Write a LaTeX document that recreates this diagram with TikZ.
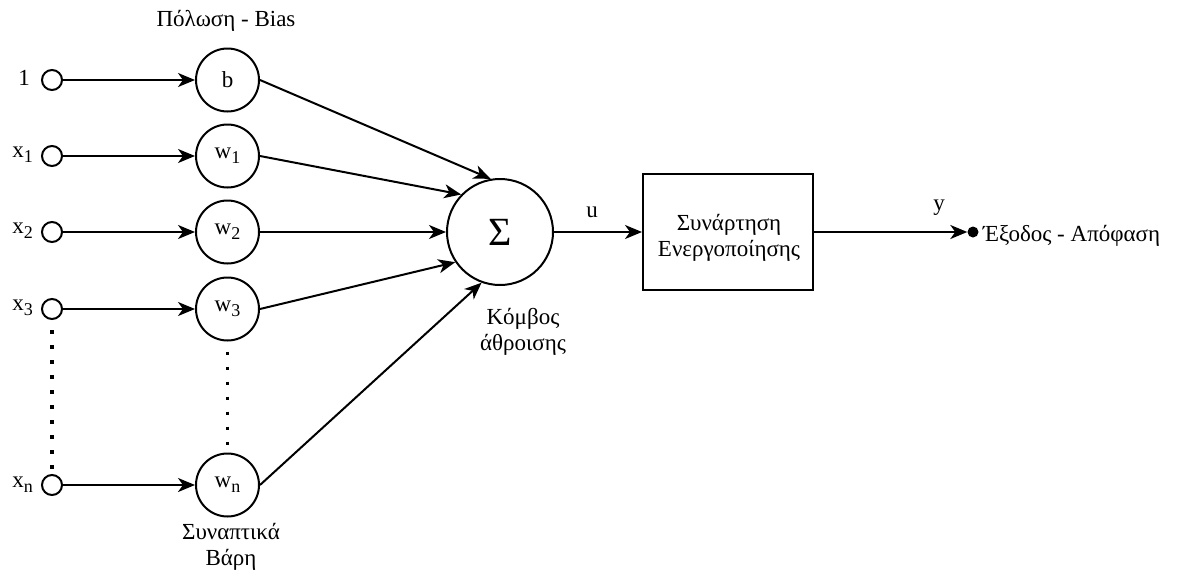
\documentclass[tikz,border=0pt]{standalone}
\usepackage{fontspec}
\setmainfont{Liberation Serif}
\usetikzlibrary{arrows.meta}
% lowered index for x_i and w_i labels
\newcommand\lowidx[1]{\raisebox{-5pt}{\fontsize{18}{18}\selectfont#1}}
\begin{document}
\begin{tikzpicture}[x=1pt,y=-1pt,
  every node/.style={font=\fontsize{23}{26}\selectfont},
  conn/.style={line width=2pt},
  arr/.style={conn,-{Stealth[length=17pt,width=14pt,inset=5pt]}},
  inport/.style={circle,draw,line width=2pt,minimum size=20pt,inner sep=0pt},
  weight/.style={circle,draw,line width=2pt,minimum size=63pt,inner sep=0pt},
  dots/.style={line width=3.8pt,dash pattern=on 3.8pt off 11.2pt},
  lbl/.style={inner sep=0pt,align=center}]
\useasboundingbox (0,0) rectangle (1178,576);

% input terminals
\node[inport] (i0) at (52,80) {};
\node[inport] (i1) at (52,156) {};
\node[inport] (i2) at (52,232) {};
\node[inport] (i3) at (52,309) {};
\node[inport] (in) at (52,485) {};
\node[lbl,anchor=east] (l0) at (30,78) {1};
\node[lbl,anchor=east] (l1) at (33,155) {x\lowidx{1}};
\node[lbl,anchor=east] (l2) at (33,231) {x\lowidx{2}};
\node[lbl,anchor=east] (l3) at (33,308) {x\lowidx{3}};
\node[lbl,anchor=east] (ln) at (33,485) {x\lowidx{n}};

% weights
\node[weight] (b)  at (227.5,80) {b};
\node[weight] (w1) at (227.5,156) {w\lowidx{1}};
\node[weight] (w2) at (227.5,232) {w\lowidx{2}};
\node[weight] (w3) at (227.5,309) {w\lowidx{3}};
\node[weight] (wn) at (227.5,485) {w\lowidx{n}};
\node[lbl] (bias) at (226,21) {Πόλωση - Bias};
\node[lbl] (wlab) at (231,547) {Συναπτικά\\Βάρη};

% summing node
\node[circle,draw,line width=2pt,minimum size=106pt,inner sep=0pt] (sum) at (500,232)
  {\fontsize{40}{44}\selectfont Σ};
\node[lbl] (sumlab) at (523,332) {Κόμβος\\άθροισης};

% activation block
\node[draw,line width=2pt,minimum width=170pt,minimum height=116pt,inner sep=0pt] (act) at (728,232) {};
\node[lbl] (acttxt) at (729,238) {Συνάρτηση\\Ενεργοποίησης};

% output terminal
\node[circle,fill,minimum size=11pt,inner sep=0pt] (out) at (973,232) {};
\node[lbl,anchor=west] (outlab) at (983,236) {Έξοδος - Απόφαση};
\node[lbl] (ulab) at (592,212) {u};
\node[lbl] (ylab) at (939,208) {y};

% connectors
\draw[arr] (i0) -- (b);
\draw[arr] (i1) -- (w1);
\draw[arr] (i2) -- (w2);
\draw[arr] (i3) -- (w3);
\draw[arr] (in) -- (wn);
\draw[arr] (b.east)  -- (sum.100);
\draw[arr] (w1.east) -- (sum.136);
\draw[arr] (w2.east) -- (sum.west);
\draw[arr] (w3.east) -- (sum.214);
\draw[arr] (wn.east) -- (sum.250);
\draw[arr] (sum) -- (act);
\draw[arr] (act) -- (out);
\draw[dots] (i3.south) ++(0,10) -- (in.north);
\draw[dots] (w3.south) ++(0,10) -- (wn.north);
\end{tikzpicture}
\end{document}
